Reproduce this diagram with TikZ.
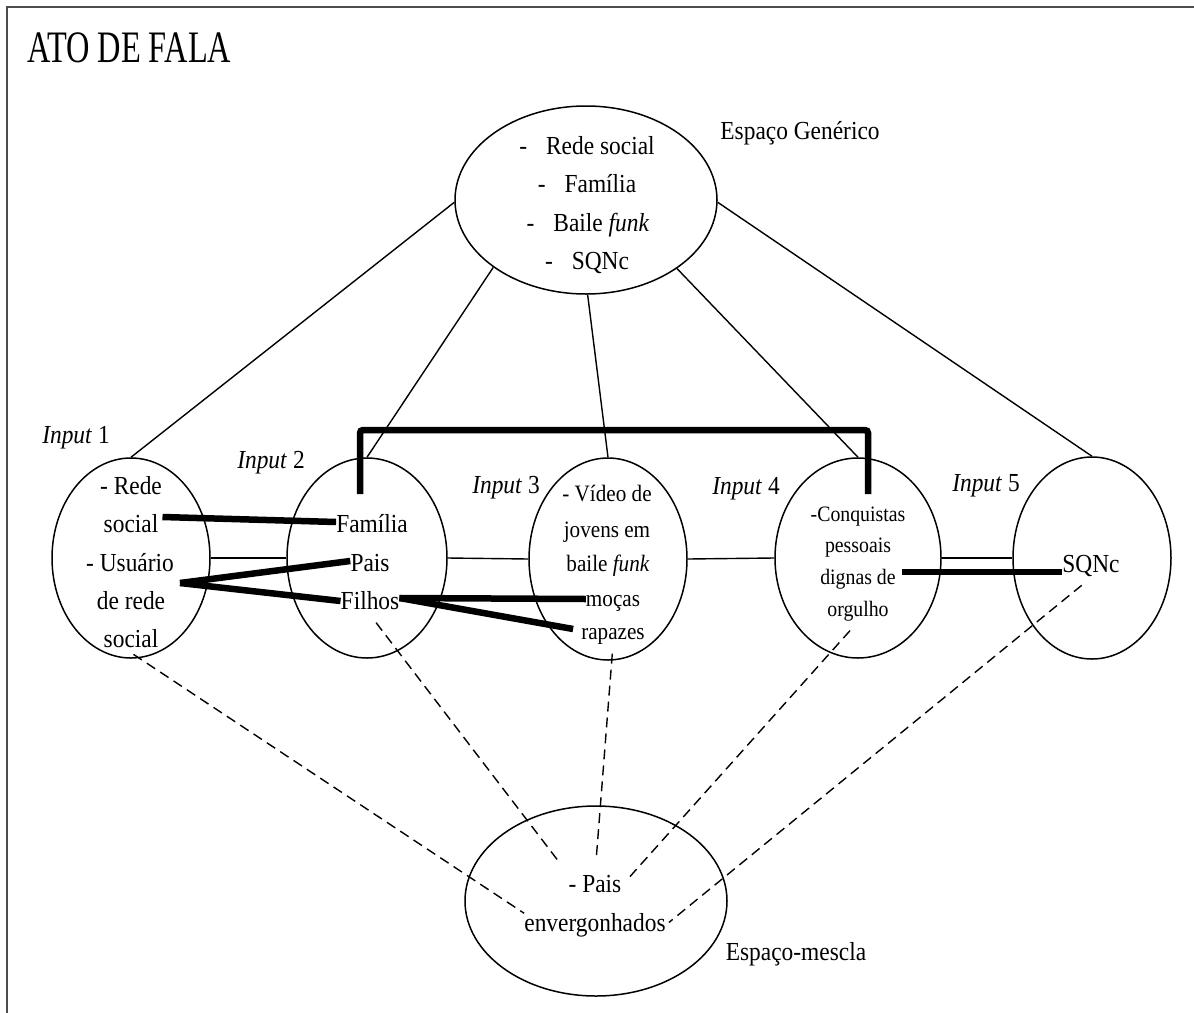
\documentclass[tikz,border=0pt]{standalone}
\usepackage{fontspec}
\setmainfont{Liberation Serif}[FakeStretch=0.9]
\newfontfamily\titlefont{Liberation Serif}[FakeStretch=0.72]
\usetikzlibrary{shapes.geometric}
\tikzset{
  ell/.style n args={2}{draw, ellipse, line width=1.5pt, inner sep=0pt, minimum width=#1, minimum height=#2},
  txt/.style={inner sep=0pt, text height=18pt, text depth=5pt, yshift=-3pt, font=\fontsize{26}{30}\selectfont},
  txtm/.style={txt, font=\fontsize{23.5}{28}\selectfont},
  txts/.style={txt, font=\fontsize{22}{26}\selectfont},
  lab/.style={inner sep=0pt, font=\fontsize{26}{30}\selectfont},
  thin/.style={line width=1.4pt},
  heavy/.style={line width=6.5pt},
  dsh/.style={line width=1.4pt, dash pattern=on 10pt off 6pt},
}
\begin{document}
\begin{tikzpicture}[x=1pt,y=-1pt]
\useasboundingbox (0,0) rectangle (1194,1012);
% frame
\draw[line width=2.4pt, black!70] (7,1014) -- (7,7) -- (1196,7);
% title
\node[anchor=base west, inner sep=0pt, font=\titlefont\fontsize{45}{50}\selectfont] (title) at (27,62) {ATO DE FALA};

% ellipses
\node[ell={262pt}{188pt}] (g) at (586,200) {};
\node[ell={158pt}{200pt}] (i1) at (131,558) {};
\node[ell={160pt}{200pt}] (i2) at (367,558) {};
\node[ell={158pt}{202pt}] (i3) at (608,559) {};
\node[ell={166pt}{200pt}] (i4) at (858,558) {};
\node[ell={158pt}{202pt}] (i5) at (1092,558) {};
\node[ell={262pt}{190pt}] (b) at (596,901) {};

% labels
\node[lab] (lg) at (800,133) {Espaço Genérico};
\node[lab] (l1) at (76,438) {\textit{Input} 1};
\node[lab] (l2) at (271,463) {\textit{Input} 2};
\node[lab] (l3) at (506,488) {\textit{Input} 3};
\node[lab] (l4) at (746,489) {\textit{Input} 4};
\node[lab] (l5) at (986,486) {\textit{Input} 5};
\node[lab] (lb) at (796,954) {Espaço-mescla};

% generic space text
\node[txt] (ga) at (587,145) {-\hspace{19pt}Rede social};
\node[txt] (gb) at (587,183) {-\hspace{19pt}Família};
\node[txt] (gc) at (588,222) {-\hspace{19pt}Baile \textit{funk}};
\node[txt] (gd) at (587,260) {-\hspace{19pt}SQNc};

% input 1 text
\node[txt] (i1a) at (131,485) {- Rede};
\node[txt] (i1b) at (131,523) {social};
\node[txt] (i1c) at (130,562) {- Usuário};
\node[txt] (i1d) at (131,600) {de rede};
\node[txt] (i1e) at (131,638) {social};
% input 2 text
\node[txt] (i2a) at (372,523) {Família};
\node[txt] (i2b) at (370,562) {Pais};
\node[txt] (i2c) at (370,600) {Filhos};
% input 3 text
\node[txtm] (i3a) at (607,492) {- Vídeo de};
\node[txtm] (i3b) at (607,528) {jovens em};
\node[txtm] (i3c) at (608,562) {baile \textit{funk}};
\node[txtm] (i3d) at (613,597) {moças};
\node[txtm] (i3e) at (613,630) {rapazes};
% input 4 text
\node[txts] (i4a) at (858,512) {-Conquistas};
\node[txts] (i4b) at (858,543) {pessoais};
\node[txts] (i4c) at (858,575) {dignas de};
\node[txts] (i4d) at (858,607) {orgulho};
% input 5 text
\node[txt] (i5a) at (1091,563) {SQNc};
% blend text
\node[txt] (b1) at (595,883) {- Pais};
\node[txt] (b2) at (595,922) {envergonhados};

% generic to inputs
\draw[thin] (g.181) -- (i1.north);
\draw[thin] (g.216) -- (i2.north);
\draw[thin] (g.271) -- (i3.north);
\draw[thin] (g.-37) -- (i4.north);
\draw[thin] (g.-1) -- (i5.north);

% horizontal links between inputs
\draw[thin] (i1.east) -- (i2.west);
\draw[thin] (i2.east) -- (i3.west);
\draw[thin] (i3.east) -- (i4.west);
\draw[thin] (i4.east) -- (i5.west);

% heavy bracket between Familia and Conquistas
\coordinate (bk1) at (360,494);
\coordinate (bk2) at (868,494);
\draw[heavy, rounded corners=3pt] (bk1) -- (bk1 |- 0,430) -- (bk2 |- 0,430) -- (bk2);

% heavy mappings
\coordinate (u) at (180,583);
\draw[heavy] ([xshift=4pt,yshift=9pt]i1b.east) -- ([yshift=4pt]i2a.west);
\draw[heavy] (u) -- ([yshift=4pt]i2b.west);
\draw[heavy] (u) -- ([yshift=2pt]i2c.west);
\draw[heavy] ([yshift=5pt]i2c.east) -- ([yshift=1pt]i3d.west);
\draw[heavy] ([yshift=5pt]i2c.east) -- ([xshift=-8pt,yshift=4pt]i3e.west);
\draw[heavy] ([xshift=6pt,yshift=6pt]i4c.east) -- ([yshift=-6pt]i5a.west);

% dashed links to blend
\draw[dsh, shorten <=3pt] (i1e.south) -- (b2.north west);
\draw[dsh, shorten <=10pt, shorten >=18pt] (i2c.south) -- (b1.north west);
\draw[dsh, shorten <=9pt, shorten >=14pt] (i3e.south) -- (b1.north);
\draw[dsh, shorten <=12pt, shorten >=12pt] (i4d.south) -- (b1.east);
\draw[dsh, shorten <=12pt, shorten >=4pt] (i5a.south) -- (b2.east);
\end{tikzpicture}
\end{document}
